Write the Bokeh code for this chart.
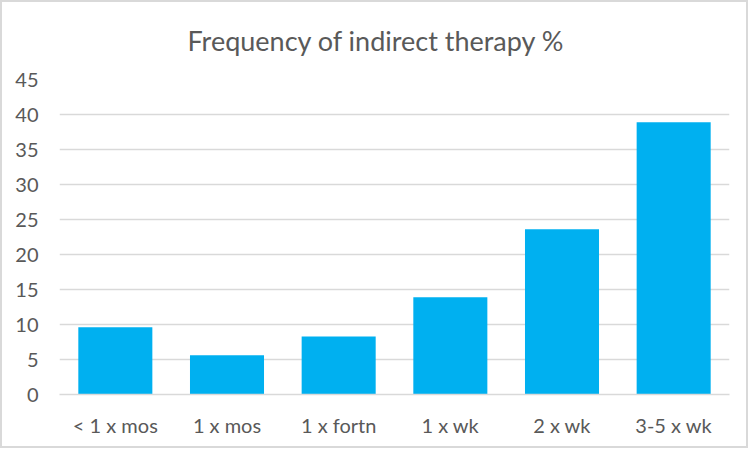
from bokeh.plotting import figure
from bokeh.models import ColumnDataSource, FixedTicker
from bokeh.embed import file_html
from bokeh.resources import INLINE

categories = ["< 1 x mos", "1 x mos", "1 x fortn", "1 x wk", "2 x wk", "3-5 x wk"]
values = [9.6, 5.6, 8.3, 13.9, 23.6, 38.9]
y_ticks = [0, 5, 10, 15, 20, 25, 30, 35, 40, 45]
title_text = "Frequency of indirect therapy %"

FONT = "Lato"
TXT = "#595959"
GRID = "#d9d9d9"

source = ColumnDataSource(data=dict(cat=categories, val=values))

p = figure(x_range=categories, y_range=(0, 45), width=748, height=448,
           output_backend="svg", toolbar_location=None,
           min_border_left=57, min_border_right=21, min_border_top=77, min_border_bottom=56)
p.styles = {"border": "2px solid #d9d9d9"}

p.vbar(x="cat", top="val", width=0.663, source=source, color="#00B0F0", line_color=None)

p.title.text = title_text
p.title.align = "left"
p.title.offset = 128
p.title.vertical_align = "top"
p.title.text_font = FONT
p.title.text_font_size = "27px"
p.title.text_font_style = "normal"
p.title.text_color = TXT
p.title.standoff = 41

p.outline_line_color = None
p.xgrid.grid_line_color = None
p.ygrid.grid_line_color = GRID
p.ygrid.grid_line_width = 1.5
p.yaxis.ticker = FixedTicker(ticks=y_ticks)

p.yaxis.axis_line_color = None
p.yaxis.major_tick_line_color = None
p.yaxis.minor_tick_line_color = None
p.yaxis.major_label_standoff = 15
p.yaxis.major_label_text_font = FONT
p.yaxis.major_label_text_font_size = "20px"
p.yaxis.major_label_text_color = TXT

p.xaxis.axis_line_color = GRID
p.xaxis.axis_line_width = 1.5
p.xaxis.major_tick_line_color = None
p.xaxis.minor_tick_line_color = None
p.xaxis.major_label_standoff = 12
p.xaxis.major_label_text_font = FONT
p.xaxis.major_label_text_font_size = "20px"
p.xaxis.major_label_text_color = TXT

p.x_range.range_padding = 0
p.background_fill_color = "white"
p.border_fill_color = "white"

open("out.html", "w").write(file_html(p, INLINE))
